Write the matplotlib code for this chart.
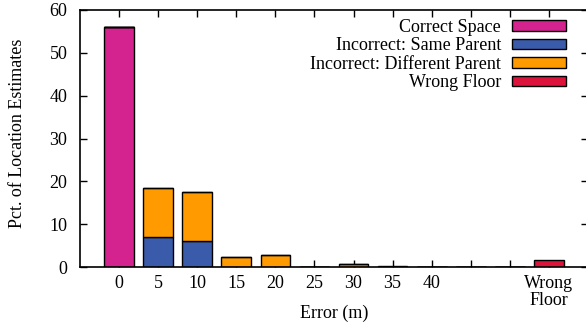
import matplotlib
matplotlib.use('Agg')
import matplotlib.pyplot as plt
import numpy as np

plt.rcParams['font.family'] = ['Liberation Serif', 'DejaVu Serif']
plt.rcParams['font.size'] = 13

labels = ['0', '5', '10', '15', '20', '25', '30', '35', '40', '', '', 'Wrong\nFloor']
correct = [56.0, 0, 0, 0, 0, 0, 0, 0, 0, 0, 0, 0]
same_parent = [0, 7.0, 6.1, 0, 0, 0, 0, 0, 0, 0, 0, 0]
diff_parent = [0, 11.5, 11.4, 2.3, 2.7, 0, 0.6, 0.1, 0, 0, 0, 0]
wrong_floor = [0, 0, 0, 0, 0.1, 0.1, 0.1, 0.2, 0.05, 0.1, 0.1, 1.6]

series = [('Correct Space', correct, '#d4228e'),
          ('Incorrect: Same Parent', same_parent, '#3a5aaa'),
          ('Incorrect: Different Parent', diff_parent, '#ff9a00'),
          ('Wrong Floor', wrong_floor, '#dc143c')]

fig = plt.figure(figsize=(5.86, 3.27), dpi=100)
ax = fig.add_axes([80 / 586, 60 / 327, 508 / 586, 257 / 327])
ax.set_axisbelow(True)

x = np.arange(len(labels))
bottom = np.zeros(len(labels))
for name, vals, col in series:
    vals = np.array(vals)
    ax.bar(x, vals, 0.76, bottom=bottom, color=col, edgecolor='black',
           linewidth=1.0, label=name, zorder=2)
    bottom += vals

ax.set_xlim(-1, 12)
ax.set_ylim(0, 60)
ax.set_yticks(range(0, 61, 10))
ax.set_xticks(x)
ax.set_xticklabels(labels, linespacing=0.95)
ax.tick_params(direction='in', top=True, right=True, length=5, width=1, pad=6)
ax.tick_params(axis='y', pad=9)
for s in ax.spines.values():
    s.set_linewidth(1.2)
    s.set_zorder(3)
ax.set_xlabel('Error (m)')
ax.xaxis.set_label_coords(0.5, -0.148)
ax.set_ylabel('Pct. of Location Estimates')
ax.yaxis.set_label_coords(-0.107, 0.52)

ax.legend(loc='upper right', bbox_to_anchor=(566 / 586, 1 - 19 / 327),
          bbox_transform=fig.transFigure, frameon=False, markerfirst=False,
          handlelength=3.0, handleheight=0.5, labelspacing=0.08,
          handletextpad=0.6, borderpad=0, borderaxespad=0)

fig.savefig('out.png', dpi=100)
